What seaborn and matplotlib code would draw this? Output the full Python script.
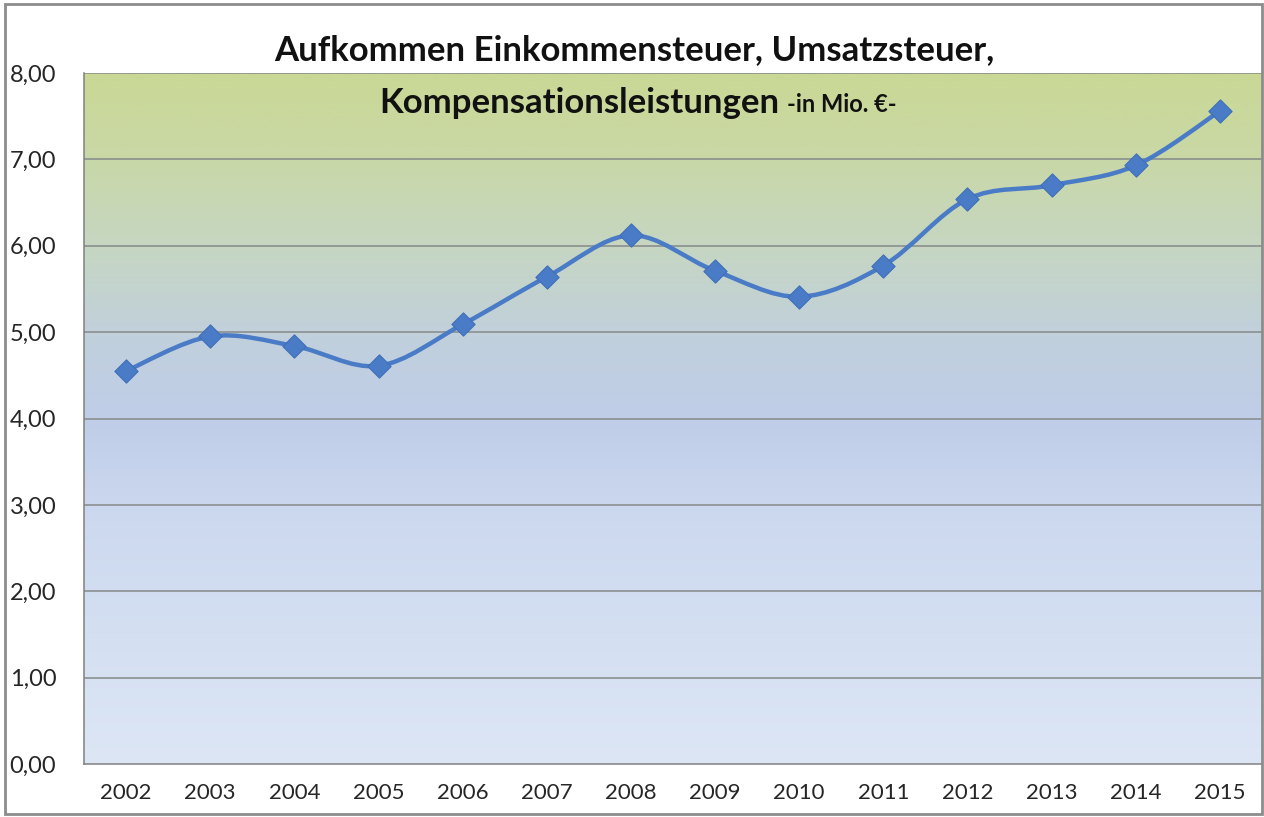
import seaborn as sns
import matplotlib.pyplot as plt
import numpy as np
import pandas as pd
from matplotlib.path import Path
from matplotlib.patches import PathPatch, Rectangle
from matplotlib.colors import LinearSegmentedColormap

years = ["2002", "2003", "2004", "2005", "2006", "2007", "2008",
         "2009", "2010", "2011", "2012", "2013", "2014", "2015"]
aufkommen = [4.55, 4.95, 4.84, 4.61, 5.09, 5.64, 6.12,
             5.71, 5.41, 5.77, 6.54, 6.70, 6.93, 7.56]
y_ticks = [0, 1, 2, 3, 4, 5, 6, 7, 8]

df = pd.DataFrame({"pos": np.arange(len(years)), "wert": aufkommen})

sns.set_style("white")
plt.rcParams["font.family"] = ["Lato", "DejaVu Sans"]

fig = plt.figure(figsize=(12.64, 8.17), dpi=100)
ax = fig.add_axes([84 / 1264, 53 / 817, 1178 / 1264, 691 / 817])

# background gradient (green top -> blue -> light blue bottom)
cmap = LinearSegmentedColormap.from_list("bg", [
    (0.0, "#dce6f5"), (0.35, "#cdd9ef"), (0.5, "#bfcde8"),
    (0.62, "#c1d0dc"), (0.75, "#c6d6c2"), (0.88, "#c9d8a6"), (1.0, "#cad895")])
grad = np.linspace(0, 1, 256).reshape(-1, 1)
ax.imshow(grad, cmap=cmap, aspect="auto", origin="lower",
          extent=[-0.5, len(years) - 0.5, 0, 8], zorder=0)

for v in y_ticks[1:]:
    ax.axhline(v, color="#858a8a", lw=1.1, zorder=1)

# smooth line (Catmull-Rom style Bezier like Excel "smoothed line")
x = df["pos"].to_numpy(dtype=float)
y = df["wert"].to_numpy(dtype=float)
pts = np.column_stack([x, y])
ext = np.vstack([pts[0], pts, pts[-1]])
verts = [tuple(pts[0])]
codes = [Path.MOVETO]
for i in range(1, len(ext) - 2):
    p0, p1, p2, p3 = ext[i - 1], ext[i], ext[i + 1], ext[i + 2]
    c1 = p1 + (p2 - p0) / 6
    c2 = p2 - (p3 - p1) / 6
    verts += [tuple(c1), tuple(c2), tuple(p2)]
    codes += [Path.CURVE4] * 3
ax.add_patch(PathPatch(Path(verts, codes), facecolor="none",
                       edgecolor="#4a7bc6", lw=3.2, zorder=3))

sns.scatterplot(data=df, x="pos", y="wert", marker="D", s=140,
                color="#4a7bc6", edgecolor="#3f6fb8", linewidth=0.8,
                ax=ax, zorder=4)

ax.set_xlim(-0.5, len(years) - 0.5)
ax.set_ylim(0, 8)
ax.set_yticks(y_ticks)
ax.set_yticklabels([f"{v:.2f}".replace(".", ",") for v in y_ticks], fontsize=17)
ax.set_xticks(np.arange(len(years)))
ax.set_xticklabels(years, fontsize=16)
ax.set_xticks(np.arange(len(years) + 1) - 0.5, minor=True)
ax.tick_params(axis="x", which="major", length=0, pad=14)
ax.tick_params(axis="x", which="minor", length=10, color="#808080", width=1, direction="out")
ax.tick_params(axis="y", length=7, color="#808080", width=1, direction="out", pad=13)
ax.set_xlabel("")
ax.set_ylabel("")

for s in ["top", "right"]:
    ax.spines[s].set_visible(False)
for s in ["left", "bottom"]:
    ax.spines[s].set_color("#808080")
    ax.spines[s].set_linewidth(1.1)

fig.text(634 / 1264, 1 - 50 / 817, "Aufkommen Einkommensteuer, Umsatzsteuer,",
         ha="center", va="center", fontsize=25, fontweight="bold", color="#111111")
t1 = fig.text(0, 1 - 103 / 817, "Kompensationsleistungen",
              ha="left", va="center", fontsize=25, fontweight="bold", color="#111111")
t2 = fig.text(0, 1 - 105 / 817, "-in Mio. €-",
              ha="left", va="center", fontsize=17, fontweight="bold", color="#111111")
fig.canvas.draw()
w1 = t1.get_window_extent().width
w2 = t2.get_window_extent().width
gap = 7
x0 = 638 - (w1 + gap + w2) / 2
t1.set_x(x0 / 1264)
t2.set_x((x0 + w1 + gap) / 1264)

fig.patches.append(Rectangle((5 / 1264, 3 / 817), 1257 / 1264, 810 / 817,
                             transform=fig.transFigure, fill=False,
                             edgecolor="#8c8c8c", lw=2))

fig.savefig("out.png", dpi=100)
